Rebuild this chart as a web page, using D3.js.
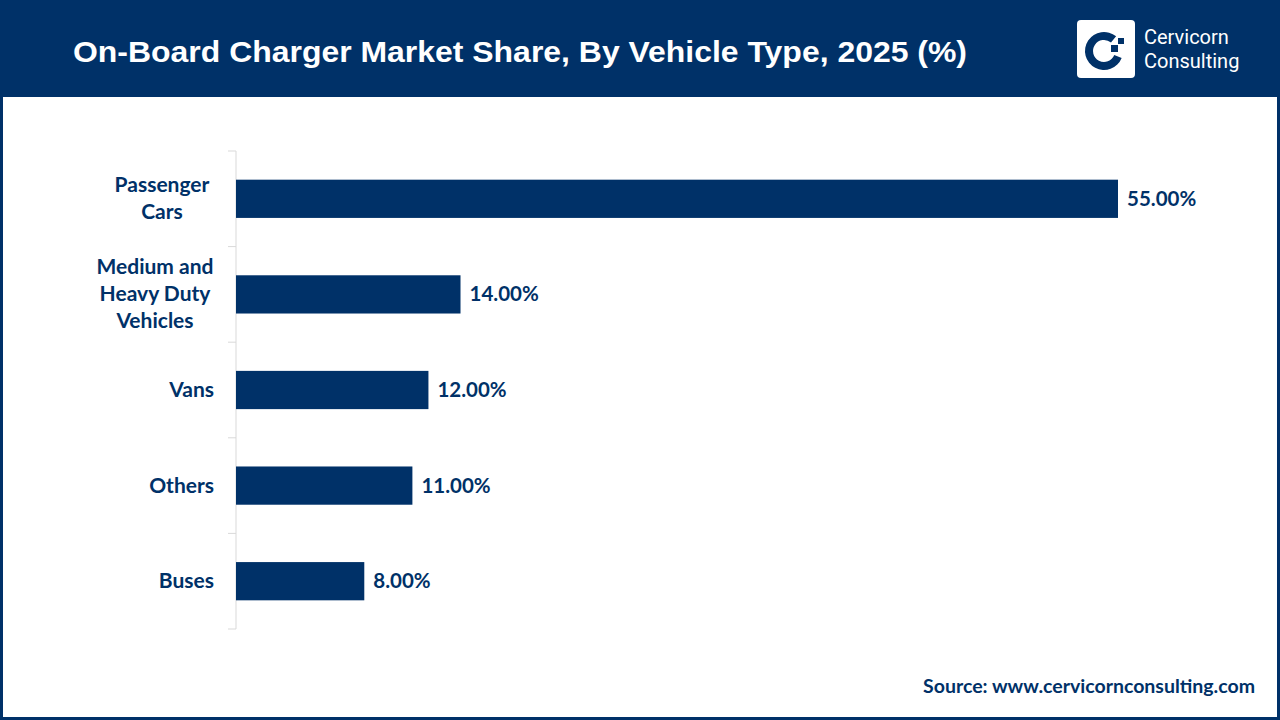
<!DOCTYPE html>
<html>
<head>
<meta charset="utf-8">
<script src="https://cdn.jsdelivr.net/npm/d3@7/dist/d3.min.js"></script>
<style>
  body { margin: 0; background: #fff; }
  svg { display: block; }
</style>
</head>
<body>
<svg id="chart" width="1280" height="720"></svg>
<script>
const categories = [["Passenger", "Cars"], ["Medium and", "Heavy Duty", "Vehicles"], ["Vans"], ["Others"], ["Buses"]];
const shares = [55, 14, 12, 11, 8];
const title = "On-Board Charger Market Share, By Vehicle Type, 2025 (%)";
const source = "Source: www.cervicornconsulting.com";

const navy = "#003168";
const labelFont = "Lato, 'Open Sans', sans-serif";

const svg = d3.select("#chart");

// frame + header
svg.append("rect").attr("x", 1.5).attr("y", 1.5).attr("width", 1277).attr("height", 717)
    .attr("fill", "#fff").attr("stroke", navy).attr("stroke-width", 3);
svg.append("rect").attr("x", 0).attr("y", 0).attr("width", 1280).attr("height", 97).attr("fill", navy);
svg.append("text").attr("x", 73).attr("y", 62).attr("fill", "#fff")
    .attr("font-family", "Arial, 'Liberation Sans', sans-serif").attr("font-weight", "bold")
    .attr("font-size", 30).attr("textLength", 894).attr("lengthAdjust", "spacingAndGlyphs")
    .text(title);

// logo
const logo = svg.append("g").attr("transform", "translate(1077,20)");
logo.append("rect").attr("width", 58).attr("height", 58).attr("rx", 4).attr("fill", "#fff");
logo.append("path")
    .attr("d", d3.arc().innerRadius(11).outerRadius(19).startAngle(Math.PI * 0.62).endAngle(Math.PI * 2.22)())
    .attr("transform", "translate(27,31)").attr("fill", navy);
logo.append("rect").attr("x", 34).attr("y", 25).attr("width", 7).attr("height", 7).attr("fill", navy);
logo.append("rect").attr("x", 41).attr("y", 18).attr("width", 6).attr("height", 6).attr("fill", navy);
logo.append("text").attr("x", 67).attr("y", 24).attr("fill", "#fff")
    .attr("font-family", "Roboto, sans-serif").attr("font-size", 20).text("Cervicorn");
logo.append("text").attr("x", 67).attr("y", 48).attr("fill", "#fff")
    .attr("font-family", "Roboto, sans-serif").attr("font-size", 20).text("Consulting");

// scales
const x = d3.scaleLinear().domain([0, 55]).range([236, 1118]);
const y = d3.scaleBand().domain(d3.range(categories.length)).range([151, 629]).paddingInner(0.6).paddingOuter(0.3);
const band = d3.scaleBand().domain(d3.range(categories.length)).range([151, 629]);

// axis with boundary ticks
const axisG = svg.append("g");
axisG.append("line").attr("x1", 236).attr("x2", 236).attr("y1", 151).attr("y2", 629)
    .attr("stroke", "#d9d9d9").attr("stroke-width", 1);
const bounds = d3.range(categories.length + 1).map(i => i < categories.length ? band(i) : 629);
axisG.selectAll("line.tick").data(bounds).join("line").attr("class", "tick")
    .attr("x1", 228).attr("x2", 236).attr("y1", d => d).attr("y2", d => d)
    .attr("stroke", "#d9d9d9");

// bars
svg.selectAll("rect.bar").data(shares).join("rect").attr("class", "bar")
    .attr("x", x(0)).attr("y", (d, i) => y(i))
    .attr("width", d => x(d) - x(0)).attr("height", y.bandwidth())
    .attr("fill", navy);

// value labels
svg.selectAll("text.val").data(shares).join("text").attr("class", "val")
    .attr("x", d => x(d) + 9).attr("y", (d, i) => y(i) + y.bandwidth() / 2 + 7)
    .attr("fill", navy).attr("font-family", labelFont).attr("font-weight", "bold")
    .attr("font-size", 20.5).text(d => d.toFixed(2) + "%");

// category labels
const lineH = 27;
const catX = [162, 155, 214, 214, 214];
const cat = svg.selectAll("text.cat").data(categories).join("text").attr("class", "cat")
    .attr("text-anchor", d => d.length === 1 ? "end" : "middle")
    .attr("fill", navy).attr("font-family", labelFont)
    .attr("font-weight", "bold").attr("font-size", 21)
    .attr("transform", (d, i) => `translate(${catX[i]},${band(i) + band.bandwidth() / 2 + 7 - (d.length - 1) * lineH / 2})`);
cat.each(function (d) {
    const t = d3.select(this);
    d.forEach((s, k) => t.append("tspan").attr("x", 0).attr("dy", k === 0 ? 0 : lineH).text(s));
});

// source
svg.append("text").attr("x", 1255).attr("y", 693).attr("text-anchor", "end")
    .attr("fill", navy).attr("font-family", labelFont).attr("font-weight", "bold")
    .attr("font-size", 19.5).text(source);
</script>
</body>
</html>
